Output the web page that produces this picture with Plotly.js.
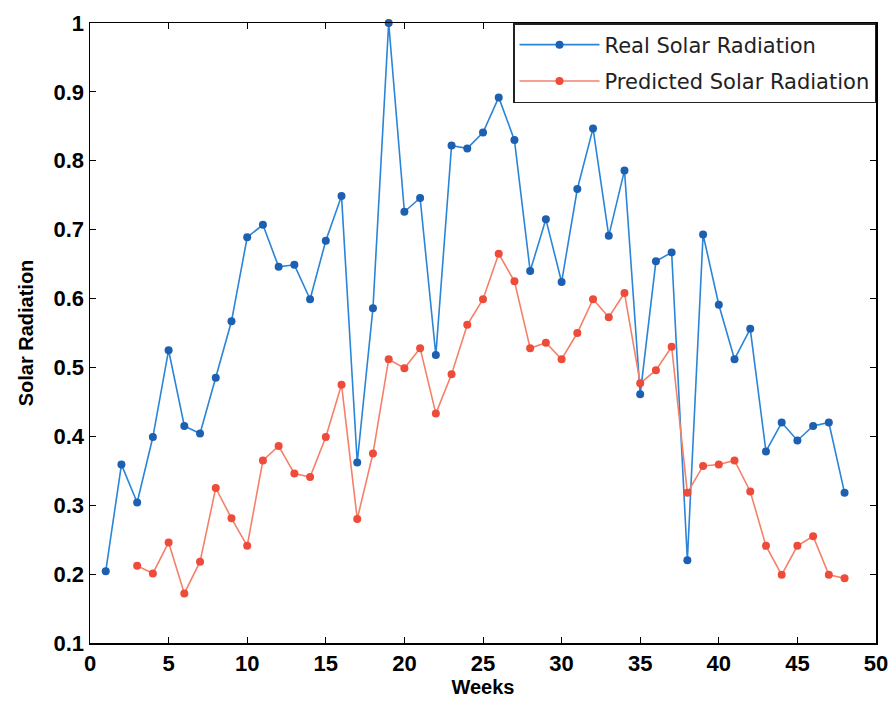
<!DOCTYPE html>
<html>
<head>
<meta charset="utf-8">
<script src="https://cdn.plot.ly/plotly-3.0.1.min.js"></script>
<style>html,body{margin:0;padding:0;background:#fff;}#chart{width:888px;height:701px;}</style>
</head>
<body>
<div id="chart"></div>
<script>
const weeksReal = [1,2,3,4,5,6,7,8,9,10,11,12,13,14,15,16,17,18,19,20,21,22,23,24,25,26,27,28,29,30,31,32,33,34,35,36,37,38,39,40,41,42,43,44,45,46,47,48];
const realRadiation = [0.204,0.359,0.304,0.399,0.525,0.415,0.404,0.485,0.567,0.689,0.707,0.646,0.649,0.599,0.684,0.749,0.362,0.586,1.0,0.726,0.746,0.518,0.822,0.818,0.841,0.892,0.830,0.640,0.715,0.624,0.759,0.847,0.691,0.786,0.461,0.654,0.667,0.220,0.693,0.591,0.512,0.556,0.378,0.420,0.394,0.415,0.420,0.318];
const weeksPred = [3,4,5,6,7,8,9,10,11,12,13,14,15,16,17,18,19,20,21,22,23,24,25,26,27,28,29,30,31,32,33,34,35,36,37,38,39,40,41,42,43,44,45,46,47,48];
const predRadiation = [0.212,0.201,0.246,0.172,0.218,0.325,0.281,0.241,0.365,0.386,0.346,0.341,0.399,0.475,0.280,0.375,0.512,0.499,0.528,0.433,0.490,0.562,0.599,0.665,0.625,0.528,0.536,0.512,0.550,0.599,0.573,0.608,0.477,0.496,0.530,0.318,0.357,0.359,0.365,0.320,0.241,0.199,0.241,0.255,0.199,0.194];
const xTicks = [0,5,10,15,20,25,30,35,40,45,50];
const yTicks = [0.1,0.2,0.3,0.4,0.5,0.6,0.7,0.8,0.9,1];
const yTickText = ['0.1','0.2','0.3','0.4','0.5','0.6','0.7','0.8','0.9','1'];

const traces = [
  {x: weeksReal, y: realRadiation, type:'scatter', mode:'lines+markers', name:'Real Solar Radiation', legendgroup:'a',
   line:{color:'#2a85d8', width:1.6}, marker:{color:'#1d5fb0', size:8}, cliponaxis:false},
  {x: weeksPred, y: predRadiation, type:'scatter', mode:'lines+markers', name:'Predicted Solar Radiation', legendgroup:'b',
   line:{color:'#f5806a', width:1.6}, marker:{color:'#ee4b3a', size:8}, cliponaxis:false}
];

const fam = 'Liberation Sans, Arial, sans-serif';
const layout = {
  width:888, height:701,
  margin:{l:90, r:12, t:23, b:58},
  paper_bgcolor:'#fff', plot_bgcolor:'#fff',
  showlegend:true,
  legend:{x:1, y:1, xanchor:'right', yanchor:'top', bgcolor:'#fff', bordercolor:'#222', borderwidth:1.5,
          traceorder:'grouped', tracegroupgap:6,
          font:{family:'DejaVu Sans, sans-serif', size:21, color:'#222'}, itemwidth:80},
  xaxis:{range:[0,50], tickvals:xTicks, ticks:'inside', ticklen:6, tickcolor:'#000', mirror:'ticks',
         showline:true, linecolor:'#000', linewidth:1.5, showgrid:false, zeroline:false, ticklabeloverflow:'allow',
         tickfont:{family:fam, size:22, color:'#000', weight:'bold'},
         title:{text:'Weeks', standoff:4, font:{family:fam, size:20, color:'#000', weight:'bold'}}},
  yaxis:{range:[0.1,1], tickvals:yTicks, ticktext:yTickText, ticks:'inside', ticklen:6, tickcolor:'#000', mirror:'ticks',
         showline:true, linecolor:'#000', linewidth:1.5, showgrid:false, zeroline:false, ticklabeloverflow:'allow',
         tickfont:{family:fam, size:22, color:'#000', weight:'bold'},
         title:{text:'Solar Radiation', standoff:14, font:{family:fam, size:20, color:'#000', weight:'bold'}}}
};
Plotly.newPlot('chart', traces, layout, {displayModeBar:false, staticPlot:true});
</script>
</body>
</html>
